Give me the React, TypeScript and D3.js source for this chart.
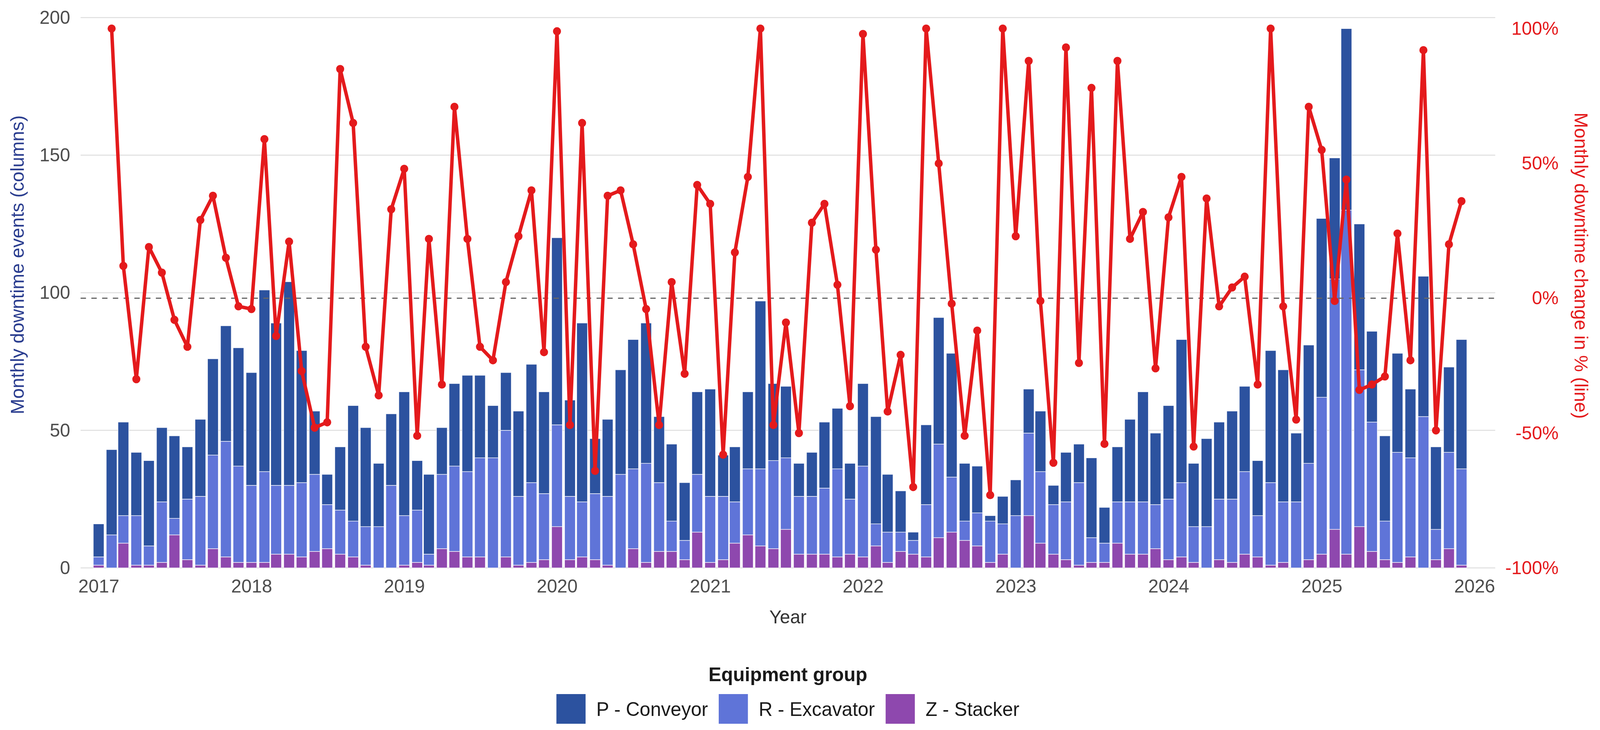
import { useEffect, useRef } from 'react';
import * as d3 from 'd3';

// monthly counts per equipment group, Jan 2017 .. Dec 2025
const firstMonth = new Date(2017, 0, 1);
const yearTicks = [2017, 2018, 2019, 2020, 2021, 2022, 2023, 2024, 2025, 2026];

const conveyor = [
  12, 31, 34, 23, 31, 27, 30, 19, 28, 35, 42, 43,
  41, 66, 59, 74, 48, 23, 11, 23, 42, 36, 23, 26,
  45, 18, 29, 17, 30, 35, 30, 19, 21, 31, 43, 37,
  68, 35, 65, 20, 28, 38, 47, 51, 24, 28, 21, 30,
  39, 15, 20, 28, 61, 28, 26, 12, 16, 24, 22, 13,
  30, 39, 21, 15, 3, 29, 46, 45, 21, 17, 2, 10,
  13, 16, 22, 7, 18, 14, 29, 13, 20, 30, 40, 26,
  34, 52, 23, 32, 28, 32, 31, 20, 48, 48, 25, 43,
  65, 44, 66, 53, 33, 31, 36, 25, 51, 30, 31, 47,
];
const excavator = [
  3, 12, 10, 18, 7, 22, 6, 22, 25, 34, 42, 35,
  28, 33, 25, 25, 27, 28, 16, 16, 13, 14, 15, 30,
  18, 19, 4, 27, 31, 31, 36, 40, 46, 25, 29, 24,
  37, 23, 20, 24, 25, 34, 29, 36, 25, 11, 7, 21,
  24, 23, 15, 24, 28, 32, 26, 21, 21, 24, 32, 20,
  33, 8, 11, 7, 5, 19, 34, 20, 7, 12, 15, 11,
  19, 30, 26, 18, 21, 30, 9, 7, 15, 19, 19, 16,
  22, 27, 13, 15, 22, 23, 30, 15, 30, 22, 24, 35,
  57, 91, 125, 57, 47, 14, 40, 36, 55, 11, 35, 35,
];
const stacker = [
  1, 0, 9, 1, 1, 2, 12, 3, 1, 7, 4, 2,
  2, 2, 5, 5, 4, 6, 7, 5, 4, 1, 0, 0,
  1, 2, 1, 7, 6, 4, 4, 0, 4, 1, 2, 3,
  15, 3, 4, 3, 1, 0, 7, 2, 6, 6, 3, 13,
  2, 3, 9, 12, 8, 7, 14, 5, 5, 5, 4, 5,
  4, 8, 2, 6, 5, 4, 11, 13, 10, 8, 2, 5,
  0, 19, 9, 5, 3, 1, 2, 2, 9, 5, 5, 7,
  3, 4, 2, 0, 3, 2, 5, 4, 1, 2, 0, 3,
  5, 14, 5, 15, 6, 3, 2, 4, 0, 3, 7, 1,
];
// month-on-month change in %, capped at 100 (no value for the first month)
const changePct: (number | null)[] = [
  null, 100, 12, -30, 19, 9.5, -8, -18, 29, 38, 15, -3,
  -4, 59, -14, 21, -27, -48, -46, 85, 65, -18, -36, 33,
  48, -51, 22, -32, 71, 22, -18, -23, 6, 23, 40, -20,
  99, -47, 65, -64, 38, 40, 20, -4, -47, 6, -28, 42,
  35, -58, 17, 45, 100, -47, -9, -50, 28, 35, 5, -40,
  98, 18, -42, -21, -70, 100, 50, -2, -51, -12, -73, 100,
  23, 88, -1, -61, 93, -24, 78, -54, 88, 22, 32, -26,
  30, 45, -55, 37, -3, 4, 8, -32, 100, -3, -45, 71,
  55, -1, 44, -34, -32, -29, 24, -23, 92, -49, 20, 36,
];

const groups = [
  { key: 'conveyor', label: 'P - Conveyor', color: '#2c529f' },
  { key: 'excavator', label: 'R - Excavator', color: '#5f74d8' },
  { key: 'stacker', label: 'Z - Stacker', color: '#8e48ae' },
];

const W = 4168;
const H = 1869;
const FONT = '"Liberation Sans", Arial, Helvetica, sans-serif';
const RED = '#e41a1c';

const Chart = () => {
  const ref = useRef<SVGSVGElement | null>(null);

  useEffect(() => {
    document.body.style.margin = '0';
    document.body.style.overflow = 'hidden';

    const svg = d3.select(ref.current);
    svg.selectAll('*').remove();

    const panel = { left: 210, right: 3895, top: 45, bottom: 1454 };

    const rows = conveyor.map((_, i) => ({
      date: d3.timeMonth.offset(firstMonth, i),
      conveyor: conveyor[i],
      excavator: excavator[i],
      stacker: stacker[i],
      pct: changePct[i],
    }));
    const totals = rows.map(r => r.conveyor + r.excavator + r.stacker);
    const maxTotal = d3.max(totals) || 0;

    const x = d3.scaleTime()
      .domain([new Date(2017, 0, 1), new Date(2026, 0, 1)])
      .range([257, 3841]);
    const y = d3.scaleLinear().domain([0, 200]).range([panel.bottom, panel.top]);
    // secondary axis: -100..100 % mapped onto 0..max total
    const yR = d3.scaleLinear().domain([-100, 100]).range([y(0), y(maxTotal)]);

    svg.append('rect').attr('width', W).attr('height', H).attr('fill', '#fff');

    // grid
    svg.append('g')
      .selectAll('line')
      .data([0, 50, 100, 150, 200])
      .join('line')
      .attr('x1', panel.left)
      .attr('x2', panel.right)
      .attr('y1', d => y(d))
      .attr('y2', d => y(d))
      .attr('stroke', '#dedede')
      .attr('stroke-width', 2.5);

    // stacked columns (stacker at the bottom)
    const stack = d3.stack<any>().keys(['stacker', 'excavator', 'conveyor']);
    const series = stack(rows);
    const colorOf = (k: string) => groups.find(g => g.key === k)!.color;
    const barW = 28;

    svg.append('g')
      .selectAll('g')
      .data(series)
      .join('g')
      .attr('fill', s => colorOf(s.key))
      .selectAll('rect')
      .data(s => s)
      .join('rect')
      .attr('x', d => x(d.data.date) - barW / 2)
      .attr('y', d => y(d[1]))
      .attr('width', barW)
      .attr('height', d => Math.max(0, y(d[0]) - y(d[1])))
      .attr('stroke', 'rgba(255,255,255,0.85)')
      .attr('stroke-width', 1.5);

    // zero change reference
    svg.append('line')
      .attr('x1', panel.left)
      .attr('x2', panel.right)
      .attr('y1', yR(0))
      .attr('y2', yR(0))
      .attr('stroke', '#666')
      .attr('stroke-width', 3)
      .attr('stroke-dasharray', '14,14');

    // change line
    const pts = rows.filter(r => r.pct !== null);
    const line = d3.line<any>()
      .x(d => x(d.date))
      .y(d => yR(d.pct));

    svg.append('path')
      .datum(pts)
      .attr('fill', 'none')
      .attr('stroke', RED)
      .attr('stroke-width', 9)
      .attr('stroke-linejoin', 'round')
      .attr('d', line);

    svg.append('g')
      .selectAll('circle')
      .data(pts)
      .join('circle')
      .attr('cx', d => x(d.date))
      .attr('cy', d => yR(d.pct as number))
      .attr('r', 10.5)
      .attr('fill', RED);

    // axes
    const styleAxis = (g: any, color: string) => {
      g.select('.domain').remove();
      g.selectAll('text')
        .attr('font-family', FONT)
        .attr('font-size', 48)
        .attr('fill', color);
    };

    svg.append('g')
      .attr('transform', `translate(${panel.left},0)`)
      .call(d3.axisLeft(y).tickValues([0, 50, 100, 150, 200]).tickSize(0).tickPadding(27))
      .call((g: any) => styleAxis(g, '#4d4d4d'));

    svg.append('g')
      .attr('transform', 'translate(4062,0)')
      .call(
        d3.axisLeft(yR)
          .tickValues([-100, -50, 0, 50, 100])
          .tickSize(0)
          .tickPadding(2)
          .tickFormat(d => `${d}%`)
      )
      .call((g: any) => styleAxis(g, RED));

    svg.append('g')
      .attr('transform', `translate(0,${panel.bottom})`)
      .call(
        d3.axisBottom(x)
          .tickValues(yearTicks.map(yr => new Date(yr, 0, 1)))
          .tickSize(0)
          .tickPadding(29)
          .tickFormat(d => d3.timeFormat('%Y')(d as Date))
      )
      .call((g: any) => styleAxis(g, '#4d4d4d'));

    // axis titles
    svg.append('text')
      .attr('transform', 'translate(62,678) rotate(-90)')
      .attr('text-anchor', 'middle')
      .attr('font-family', FONT)
      .attr('font-size', 48)
      .attr('fill', '#2a3d8f')
      .text('Monthly downtime events (columns)');

    svg.append('text')
      .attr('transform', 'translate(4102,680) rotate(90)')
      .attr('text-anchor', 'middle')
      .attr('font-family', FONT)
      .attr('font-size', 48)
      .attr('fill', RED)
      .text('Monthly downtime change in % (line)');

    const cx = (panel.left + panel.right) / 2;
    svg.append('text')
      .attr('x', cx)
      .attr('y', 1596)
      .attr('text-anchor', 'middle')
      .attr('font-family', FONT)
      .attr('font-size', 48)
      .attr('fill', '#333')
      .text('Year');

    // legend
    svg.append('text')
      .attr('x', cx)
      .attr('y', 1744)
      .attr('text-anchor', 'middle')
      .attr('font-family', FONT)
      .attr('font-size', 50)
      .attr('font-weight', 'bold')
      .attr('fill', '#1a1a1a')
      .text('Equipment group');

    const key = 76;
    const gap = 28;
    const legend = svg.append('g');
    const items = legend.selectAll('g')
      .data(groups)
      .join('g');
    items.append('rect')
      .attr('width', key)
      .attr('height', key)
      .attr('y', 1777)
      .attr('fill', d => d.color);
    const labels = items.append('text')
      .attr('x', key + gap)
      .attr('y', 1833)
      .attr('font-family', FONT)
      .attr('font-size', 50)
      .attr('fill', '#1a1a1a')
      .text(d => d.label);

    const widths: number[] = [];
    labels.each(function () {
      widths.push((this as SVGTextElement).getComputedTextLength());
    });
    const itemW = widths.map(w => key + gap + w);
    const total = d3.sum(itemW) + gap * (groups.length - 1);
    let pos = cx - total / 2;
    items.attr('transform', (_, i) => {
      const t = `translate(${pos},0)`;
      pos += itemW[i] + gap;
      return t;
    });
  }, []);

  // stretch the drawing over whatever viewport the page gets
  return (
    <svg
      ref={ref}
      viewBox={`0 0 ${W} ${H}`}
      preserveAspectRatio="none"
      style={{ position: 'fixed', left: 0, top: 0, width: '100vw', height: '100vh', display: 'block' }}
    />
  );
};

export default function App() {
  return <Chart />;
}
